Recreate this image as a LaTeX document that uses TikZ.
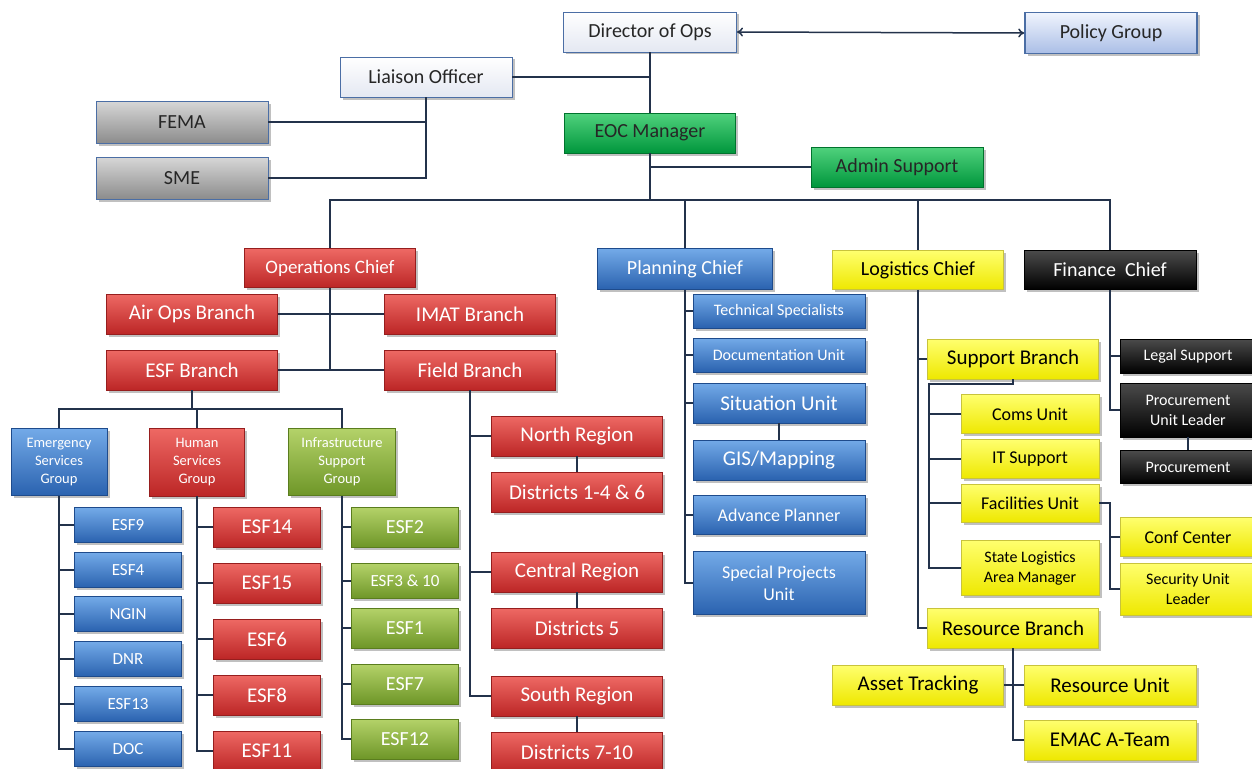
\documentclass[tikz,border=0pt]{standalone}
\usepackage{fontspec}
\setmainfont{Carlito}
\usetikzlibrary{shadows,arrows.meta}
\definecolor{cLine}{RGB}{35,50,75}
\definecolor{cRed}{RGB}{214,52,50}
\definecolor{cRedT}{RGB}{238,105,100}
\definecolor{cRedB}{RGB}{188,38,38}
\definecolor{cRedD}{RGB}{150,30,30}
\definecolor{cBlue}{RGB}{60,126,206}
\definecolor{cBlueT}{RGB}{115,170,232}
\definecolor{cBlueB}{RGB}{42,98,175}
\definecolor{cBlueD}{RGB}{30,75,140}
\definecolor{cYel}{RGB}{255,250,0}
\definecolor{cYelT}{RGB}{255,255,110}
\definecolor{cYelB}{RGB}{238,232,0}
\definecolor{cYelD}{RGB}{200,195,60}
\definecolor{cBlk}{RGB}{5,5,5}
\definecolor{cBlkT}{RGB}{75,75,75}
\definecolor{cGrn}{RGB}{10,178,75}
\definecolor{cGrnT}{RGB}{80,210,125}
\definecolor{cGrnB}{RGB}{0,150,60}
\definecolor{cGrnD}{RGB}{0,115,45}
\definecolor{cOli}{RGB}{135,178,58}
\definecolor{cOliT}{RGB}{180,210,105}
\definecolor{cOliB}{RGB}{110,150,40}
\definecolor{cOliD}{RGB}{90,125,30}
\definecolor{cGry}{RGB}{165,165,165}
\definecolor{cGryT}{RGB}{215,215,215}
\definecolor{cGryB}{RGB}{140,140,140}
\definecolor{cWhtB}{RGB}{228,232,242}
\definecolor{cBord}{RGB}{75,110,165}
\definecolor{cPolT}{RGB}{240,244,253}
\definecolor{cPol}{RGB}{205,218,242}
\definecolor{cPolB}{RGB}{170,190,230}
\tikzset{
  box/.style={rectangle, inner sep=1pt, align=center, line width=0.9pt,
    drop shadow={shadow xshift=2.5pt,shadow yshift=-2.5pt,opacity=0.35,fill=black!70}},
  sz/.style 2 args={minimum width=#1pt, minimum height=#2pt},
  redbox/.style={box, draw=cRedD, top color=cRedT, middle color=cRed, bottom color=cRedB, text=white},
  bluebox/.style={box, draw=cBlueD, top color=cBlueT, middle color=cBlue, bottom color=cBlueB, text=white},
  yelbox/.style={box, draw=cYelD, top color=cYelT, middle color=cYel, bottom color=cYelB, text=black},
  blkbox/.style={box, draw=black, top color=cBlkT, middle color=cBlk, bottom color=black, text=white},
  grnbox/.style={box, draw=cGrnD, top color=cGrnT, middle color=cGrn, bottom color=cGrnB, text=black!85},
  olibox/.style={box, draw=cOliD, top color=cOliT, middle color=cOli, bottom color=cOliB, text=white},
  grybox/.style={box, draw=cBord, top color=cGryT, middle color=cGry, bottom color=cGryB, text=black!85},
  whtbox/.style={box, draw=cBord, top color=white, middle color=white, bottom color=cWhtB, text=black!85},
  polbox/.style={box, draw=cBord, line width=1.5pt, top color=cPolT, middle color=cPol, bottom color=cPolB, text=black!85},
  conn/.style={line width=1.8pt, draw=cLine},
  fA/.style={font=\fontsize{21}{25}\selectfont},
  fB/.style={font=\fontsize{20}{24}\selectfont},
  fC/.style={font=\fontsize{19}{24}\selectfont},
  fD/.style={font=\fontsize{18}{22}\selectfont},
  fE/.style={font=\fontsize{17}{21}\selectfont},
  fF/.style={font=\fontsize{16}{20}\selectfont},
  fG/.style={font=\fontsize{16}{20}\selectfont},
  fH/.style={font=\fontsize{14.5}{18}\selectfont}
}
\begin{document}
\begin{tikzpicture}[x=1pt,y=-1pt]
\useasboundingbox (0,0) rectangle (1252,768);
\fill[white] (0,0) rectangle (1252,768);

% ---------- top ----------
\node[whtbox, sz={173}{40}, fB] (dir) at (650,32) {Director of Ops};
\node[polbox, sz={172}{41}, fB] (pol) at (1111,33) {Policy Group};
\node[whtbox, sz={172}{40}, fB] (lia) at (426,77) {Liaison Officer};
\node[grybox, sz={172}{42}, fB] (fema) at (182,122) {FEMA};
\node[grybox, sz={172}{42}, fB] (sme) at (182,178) {SME};
\node[grnbox, sz={171}{40}, fB] (eoc) at (650,133) {EOC Manager};
\node[grnbox, sz={172}{40}, fB] (adm) at (897,167) {Admin Support};

% ---------- chiefs ----------
\node[redbox, sz={171}{39}, fC] (opc) at (330,268) {Operations Chief};
\node[bluebox, sz={175}{41}, fB] (pln) at (685,269) {Planning Chief};
\node[yelbox, sz={171}{39}, fB] (lgc) at (918,270) {Logistics Chief};
\node[blkbox, sz={172}{39}, fB] (fin) at (1110,270) {Finance\ \ Chief};

% ---------- operations ----------
\node[redbox, sz={171}{40}, fA] (air) at (192,314) {Air Ops Branch};
\node[redbox, sz={171}{40}, fA] (imat) at (470,314) {IMAT Branch};
\node[redbox, sz={171}{40}, fA] (esfb) at (192,370) {ESF Branch};
\node[redbox, sz={171}{40}, fA] (fld) at (470,370) {Field Branch};

\node[bluebox, sz={96}{67}, fH] (esg) at (59,462) {Emergency\\Services\\Group};
\node[redbox, sz={95}{68}, fH] (hsg) at (197,462) {Human\\Services\\Group};
\node[olibox, sz={107}{67}, fH] (isg) at (342,462) {Infrastructure\\Support\\Group};

\node[bluebox, sz={107}{35}, fE] (esf9) at (128,525) {ESF9};
\node[bluebox, sz={107}{35}, fE] (esf4) at (128,570) {ESF4};
\node[bluebox, sz={107}{35}, fE] (ngin) at (128,614) {NGIN};
\node[bluebox, sz={107}{35}, fE] (dnr) at (128,659) {DNR};
\node[bluebox, sz={107}{35}, fE] (esf13) at (128,704) {ESF13};
\node[bluebox, sz={107}{35}, fE] (docn) at (128,749) {DOC};

\node[redbox, sz={107}{40}, fA] (esf14) at (267,527) {ESF14};
\node[redbox, sz={107}{40}, fA] (esf15) at (267,583) {ESF15};
\node[redbox, sz={107}{40}, fA] (esf6) at (267,639) {ESF6};
\node[redbox, sz={107}{40}, fA] (esf8) at (267,695) {ESF8};
\node[redbox, sz={107}{40}, fA] (esf11) at (267,751) {ESF11};

\node[olibox, sz={107}{40}, fB] (esf2) at (405,527) {ESF2};
\node[olibox, sz={107}{35}, fE] (esf3) at (405,581) {ESF3 \& 10};
\node[olibox, sz={107}{40}, fB] (esf1) at (405,628) {ESF1};
\node[olibox, sz={107}{40}, fB] (esf7) at (405,684) {ESF7};
\node[olibox, sz={107}{40}, fB] (esf12) at (405,739) {ESF12};

\node[redbox, sz={171}{40}, fA] (nreg) at (577,436) {North Region};
\node[redbox, sz={171}{40}, fA] (dst1) at (577,492) {Districts 1-4 \& 6};
\node[redbox, sz={171}{40}, fA] (creg) at (577,572) {Central Region};
\node[redbox, sz={171}{40}, fA] (dst5) at (577,628) {Districts 5};
\node[redbox, sz={171}{40}, fA] (sreg) at (577,696) {South Region};
\node[redbox, sz={171}{40}, fA] (dst7) at (577,752) {Districts 7-10};

% ---------- planning ----------
\node[bluebox, sz={172}{34}, fG] (tech) at (779,311) {Technical Specialists};
\node[bluebox, sz={172}{34}, fG] (docu) at (779,355) {Documentation Unit};
\node[bluebox, sz={172}{40}, fA] (sit) at (779,403) {Situation Unit};
\node[bluebox, sz={172}{40}, fA] (gis) at (779,460) {GIS/Mapping};
\node[bluebox, sz={172}{39}, fD] (adv) at (779,515) {Advance Planner};
\node[bluebox, sz={172}{63}, fD] (spu) at (779,583) {Special Projects\\Unit};

% ---------- logistics ----------
\node[yelbox, sz={171}{40}, fA] (supb) at (1013,359) {Support Branch};
\node[yelbox, sz={138}{39}, fD] (coms) at (1030,414) {Coms Unit};
\node[yelbox, sz={138}{39}, fD] (its) at (1030,459) {IT Support};
\node[yelbox, sz={138}{38}, fD] (fac) at (1030,503) {Facilities Unit};
\node[yelbox, sz={138}{55}, fG] (slam) at (1030,568) {State Logistics\\Area Manager};
\node[yelbox, sz={135}{39}, fD] (conf) at (1188,537) {Conf Center};
\node[yelbox, sz={135}{52}, fG] (sec) at (1188,589) {Security Unit\\Leader};
\node[yelbox, sz={171}{40}, fA] (resb) at (1013,628) {Resource Branch};
\node[yelbox, sz={171}{40}, fA] (asset) at (918,685) {Asset Tracking};
\node[yelbox, sz={172}{40}, fA] (runit) at (1110,685) {Resource Unit};
\node[yelbox, sz={172}{40}, fA] (emac) at (1110,740) {EMAC A-Team};

% ---------- finance ----------
\node[blkbox, sz={135}{34}, fF] (legal) at (1188,356) {Legal Support};
\node[blkbox, sz={135}{54}, fF] (pul) at (1188,410) {Procurement\\Unit Leader};
\node[blkbox, sz={135}{33}, fF] (proc) at (1188,467) {Procurement};

% ---------- connectors ----------
\coordinate (bus) at (650,200);
\coordinate (esfj) at (192,409);
\coordinate (supj) at (929,384);
\coordinate (facj) at (1110,503);

\draw[conn, line width=1.5pt, {To[length=6pt,width=9pt]}-{To[length=6pt,width=9pt]}] (dir.east) -- (pol.west);
\draw[conn] (dir.south) -- (eoc.north);
\draw[conn] (lia.east) -- (lia.east -| dir.south);
\draw[conn] (fema.east) -| (lia.south);
\draw[conn] (sme.east) -| (lia.south);
\draw[conn] (eoc.south) -- (bus);
\draw[conn] (adm.west) -- (adm.west -| eoc.south);
\draw[conn] (opc.north) |- (bus) -| (fin.north);
\draw[conn] (pln.north) -- (pln.north |- bus);
\draw[conn] (lgc.north) -- (lgc.north |- bus);

% operations
\draw[conn] (opc.south) -- (opc.south |- fld.west);
\draw[conn] (air.east) -- (imat.west);
\draw[conn] (esfb.east) -- (fld.west);
\draw[conn] (esfb.south) -- (esfj);
\draw[conn] (esg.north) |- (esfj) -| (isg.north);
\draw[conn] (hsg.north) -- (hsg.north |- esfj);

\draw[conn] (esg.south) |- (docn.west);
\foreach \n in {esf9,esf4,ngin,dnr,esf13} \draw[conn] (\n.west) -- (\n.west -| esg.south);
\draw[conn] (hsg.south) |- (esf11.west);
\foreach \n in {esf14,esf15,esf6,esf8} \draw[conn] (\n.west) -- (\n.west -| hsg.south);
\draw[conn] (isg.south) |- (esf12.west);
\foreach \n in {esf2,esf3,esf1,esf7} \draw[conn] (\n.west) -- (\n.west -| isg.south);

\draw[conn] (fld.south) |- (sreg.west);
\draw[conn] (nreg.west) -- (nreg.west -| fld.south);
\draw[conn] (creg.west) -- (creg.west -| fld.south);
\draw[conn] (nreg.south) -- (dst1.north);
\draw[conn] (creg.south) -- (dst5.north);
\draw[conn] (sreg.south) -- (dst7.north);

% planning
\draw[conn] (pln.south) |- (spu.west);
\foreach \n in {tech,docu,sit,adv} \draw[conn] (\n.west) -- (\n.west -| pln.south);
\draw[conn] (sit.south) -- (gis.north);

% logistics
\draw[conn] (lgc.south) |- (resb.west);
\draw[conn] (supb.west) -- (supb.west -| lgc.south);
\draw[conn] (supb.south) |- (supj) |- (slam.west);
\foreach \n in {coms,its,fac} \draw[conn] (\n.west) -- (\n.west -| supj);
\draw[conn] (fac.east) -- (facj) |- (sec.west);
\draw[conn] (conf.west) -- (conf.west -| facj);
\draw[conn] (resb.south) |- (emac.west);
\draw[conn] (asset.east) -- (runit.west);

% finance
\draw[conn] (fin.south) |- (pul.west);
\draw[conn] (legal.west) -- (legal.west -| fin.south);
\draw[conn] (pul.south) -- (proc.north);
\end{tikzpicture}
\end{document}
